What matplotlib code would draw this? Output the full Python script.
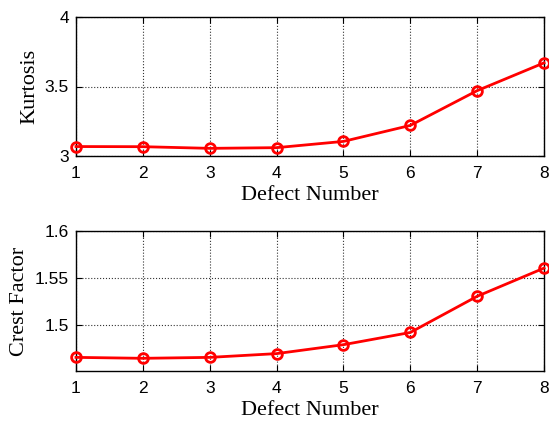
import matplotlib
matplotlib.use("Agg")
import matplotlib.pyplot as plt

defects = [1, 2, 3, 4, 5, 6, 7, 8]
kurtosis = [3.068, 3.067, 3.055, 3.060, 3.105, 3.220, 3.470, 3.670]
crest = [1.4655, 1.4645, 1.4655, 1.4695, 1.4790, 1.4920, 1.5305, 1.5605]

fig = plt.figure(figsize=(5.49, 4.21), dpi=100)
ax1 = fig.add_axes([76/549, 1-156/421, 468/549, 139/421])
ax2 = fig.add_axes([76/549, 1-371/421, 468/549, 140/421])

tick_font = {'family': 'Liberation Sans', 'size': 12.5}
label_font = {'family': 'Liberation Serif', 'size': 16}

def style(ax, ylim, yticks, ylabel):
    ax.set_xlim(1, 8)
    ax.set_ylim(*ylim)
    ax.set_xticks(defects)
    ax.set_yticks(yticks)
    ax.set_xticklabels([str(d) for d in defects], fontdict=tick_font)
    ax.set_yticklabels([f"{t:g}" for t in yticks], fontdict=tick_font)
    ax.grid(True, color='#333333', linestyle=':', linewidth=0.8)
    ax.tick_params(direction='in', top=True, right=True, length=4, width=0.8)
    ax.tick_params(axis='x', pad=7)
    ax.tick_params(axis='y', pad=5)
    for s in ax.spines.values():
        s.set_linewidth(1.0)
    ax.set_xlabel('Defect Number', fontdict=label_font, labelpad=4)
    ax.set_ylabel(ylabel, fontdict=label_font, labelpad=4)

ax1.plot(defects, kurtosis, color='red', linewidth=2, marker='o', markersize=7,
         markerfacecolor='none', markeredgewidth=2, clip_on=False, zorder=3)
style(ax1, (3, 4), [3, 3.5, 4], 'Kurtosis')

ax2.plot(defects, crest, color='red', linewidth=2, marker='o', markersize=7,
         markerfacecolor='none', markeredgewidth=2, clip_on=False, zorder=3)
style(ax2, (1.451, 1.6), [1.5, 1.55, 1.6], 'Crest Factor')

fig.savefig('out.png', dpi=100)
